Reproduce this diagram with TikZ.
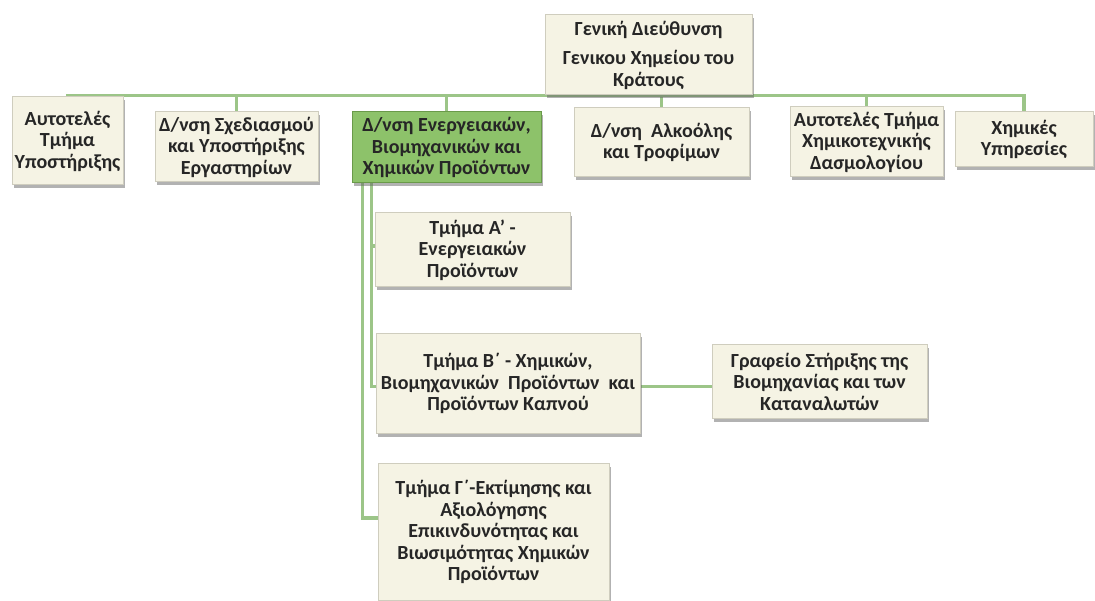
\documentclass[tikz,border=0pt]{standalone}
\usepackage{fontspec}
\setmainfont{Carlito}
\usepackage{tikz}
\usetikzlibrary{shadows, backgrounds}
\definecolor{cBox}{HTML}{F5F3E4}
\definecolor{cEdge}{HTML}{CFCDBE}
\definecolor{cLead}{HTML}{8DC26A}
\definecolor{cLeadEdge}{HTML}{6A9A4A}
\definecolor{cLink}{HTML}{9CC588}
\definecolor{cInk}{HTML}{262626}
\tikzset{
  unit/.style={rectangle, draw=cEdge, line width=1pt, fill=cBox, align=center, inner sep=1pt, text=cInk,
    font=\fontsize{20}{21.5}\selectfont\bfseries,
    drop shadow={shadow xshift=1.5pt, shadow yshift=-3.5pt, fill=black!60, opacity=.5}},
  lead/.style={unit, draw=cLeadEdge, fill=cLead},
  link/.style={draw=cLink, line width=3.5pt},
}

\begin{document}
\begin{tikzpicture}[x=1pt, y=-1pt]
\useasboundingbox (0,0) rectangle (1095,601);
% head office
\node[unit, minimum width=207pt, minimum height=80pt] (gd) at (648.5,55) {Γενική Διεύθυνση\\[8pt]Γενικου Χημείου του\\Κράτους};
% first row
\node[unit, minimum width=111pt, minimum height=88pt] (ayt) at (67.5,141) {Αυτοτελές\\Τμήμα\\Υποστήριξης};
\node[unit, minimum width=163pt, minimum height=70pt] (sxed) at (236.5,147) {Δ/νση Σχεδιασμού\\και Υποστήριξης\\Εργαστηρίων};
\node[lead, minimum width=189pt, minimum height=71pt] (energ) at (446.5,147.5) {Δ/νση Ενεργειακών,\\Βιομηχανικών και\\Χημικών Προϊόντων};
\node[unit, minimum width=175pt, minimum height=69pt] (alk) at (661.5,142.5) {Δ/νση~ Αλκοόλης\\και Τροφίμων};
\node[unit, minimum width=153pt, minimum height=70pt] (dasm) at (866.5,142) {Αυτοτελές Τμήμα\\Χημικοτεχνικής\\Δασμολογίου};
\node[unit, minimum width=138pt, minimum height=55pt] (xyp) at (1024,139.5) {Χημικές\\Υπηρεσίες};
% sections
\node[unit, minimum width=195pt, minimum height=74pt] (tmA) at (472.5,250) {Τμήμα Α' -\\Ενεργειακών\\Προϊόντων};
\node[unit, minimum width=264pt, minimum height=99pt] (tmB) at (508,383.5) {Τμήμα Β΄ - Χημικών,\\Βιομηχανικών~ Προϊόντων~ και\\Προϊόντων Καπνού};
\node[unit, minimum width=215pt, minimum height=73pt] (graf) at (819.5,381.5) {Γραφείο Στήριξης της\\Βιομηχανίας και των\\Καταναλωτών};
\node[unit, minimum width=231pt, minimum height=137pt] (tmG) at (493.5,532) {Τμήμα Γ΄-Εκτίμησης και\\Αξιολόγησης\\Επικινδυνότητας και\\Βιωσιμότητας Χημικών\\Προϊόντων};
% connectors
\begin{scope}[on background layer]
\foreach \d in {ayt, sxed, energ, alk, dasm, xyp}
  \draw[link] (gd.south) -| (\d.north);
\draw[link] ([xshift=11pt]energ.south west) |- ([yshift=14pt]tmG.west);
\draw[link] ([xshift=20pt]energ.south west) |- ([yshift=4pt]tmA.west);
\draw[link] ([xshift=20pt]energ.south west) |- ([yshift=-3pt]tmB.west);
\draw[link] ([yshift=-3pt]tmB.east) -- ([yshift=-3pt]tmB.east -| graf.west);
\end{scope}
\end{tikzpicture}
\end{document}
